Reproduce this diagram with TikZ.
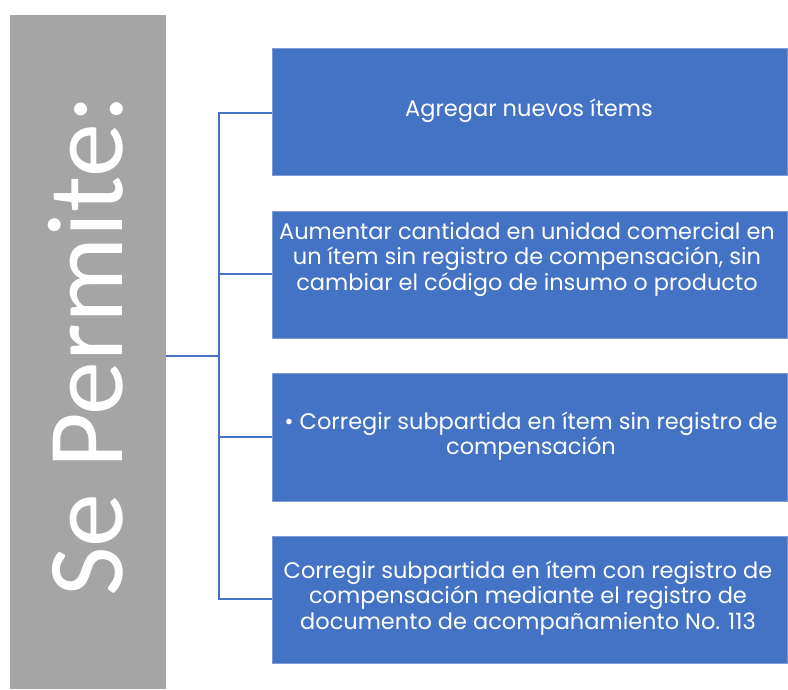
\documentclass[tikz,border=0pt]{standalone}
\usepackage{fontspec}
\setmainfont{Poppins}
\newfontfamily\titlefont{Carlito}
\definecolor{boxblue}{HTML}{4472C4}
\definecolor{bargray}{HTML}{A5A5A5}
\begin{document}
\begin{tikzpicture}[x=1pt,y=-1pt,
  itembox/.style={fill=boxblue, draw=boxblue!70!white, line width=0.8pt},
  itemtext/.style={text=white, align=center, font=\fontsize{22.5}{25.5}\selectfont, inner sep=0pt},
  link/.style={draw=boxblue, line width=1.5pt}]
\useasboundingbox (0,0) rectangle (788,689);
% gray bar
\fill[bargray] (10,15) rectangle (166,689);
\node[text=white, rotate=90, font=\titlefont\fontsize{108}{110}\selectfont, inner sep=0pt] (title) at (86,346) {Se Permite:};
\coordinate (barR) at (166,356);
% boxes
\draw[itembox] (272,48) rectangle (787,175);
\draw[itembox] (272,211) rectangle (787,338);
\draw[itembox] (272,373) rectangle (787,501);
\draw[itembox] (272,536) rectangle (787,663);
\coordinate (b1) at (272,113);
\coordinate (b2) at (272,274);
\coordinate (b3) at (272,437);
\coordinate (b4) at (272,599);
\node[itemtext] (t1) at (529,111) {Agregar nuevos ítems};
\node[itemtext] (t2) at (527,259) {Aumentar cantidad en unidad comercial en\\un ítem sin registro de compensación, sin\\cambiar el código de insumo o producto};
\node[itemtext] (t3) at (531,436) {\textbullet\ Corregir subpartida en ítem sin registro de\\compensación};
\node[itemtext] (t4) at (528,598) {Corregir subpartida en ítem con registro de\\compensación mediante el registro de\\documento de acompañamiento No. 113};
% connectors
\coordinate (sp) at (219,356);
\coordinate (top) at (219,113);
\coordinate (bot) at (219,599);
\draw[link] (barR) -- (sp);
\draw[link] (b1) -- (top) -- (bot) -- (b4);
\draw[link] (sp |- b2) -- (b2);
\draw[link] (sp |- b3) -- (b3);
\end{tikzpicture}
\end{document}
